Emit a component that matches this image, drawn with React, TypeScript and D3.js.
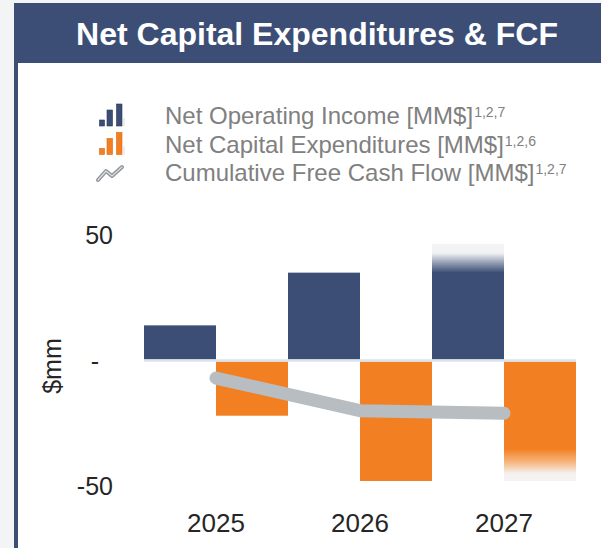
import React from "react";
import * as d3 from "d3";

const years = ["2025", "2026", "2027"];
const netOperatingIncome = [14, 35, 46.5];
const netCapex = [-22, -48, -48];
const cumulativeFCF = [-7, -20, -21];
const fadedYears = ["2027"];
const yTicks = [50, 0, -50];
const yTickLabels = ["50", "-", "-50"];
const legendLabels = [
  "Net Operating Income [MM$]",
  "Net Capital Expenditures [MM$]",
  "Cumulative Free Cash Flow [MM$]",
];
const legendSups = ["1,2,7", "1,2,6", "1,2,7"];
const titleText = "Net Capital Expenditures & FCF";
const yAxisTitle = "$mm";

const W = 601;
const H = 548;
const BLUE = "#3c4e75";
const ORANGE = "#f28022";
const GRAY_LINE = "#b8bdc1";
const FONT = "'Liberation Sans', Arial, sans-serif";

export default function App() {
  const x = d3.scaleBand<string>().domain(years).range([144, 576]).padding(0);
  const y = d3.scaleLinear().domain([-50, 50]).range([486, 235]);
  const bw = x.bandwidth();
  const y0 = y(0);

  const line = d3
    .line<number>()
    .x((_, i) => (x(years[i]) as number) + bw / 2)
    .y((d) => y(d));

  return (
    <svg
      width={W}
      height={H}
      style={{ position: "absolute", left: 0, top: 0, display: "block" }}
      fontFamily={FONT}
    >
      <defs>
        <linearGradient id="fadeBlue" x1="0" y1="0" x2="0" y2="1">
          <stop offset="0" stopColor="#f4f4f4" />
          <stop offset="0.08" stopColor="#f1f2f4" />
          <stop offset="0.16" stopColor="#98a2b6" />
          <stop offset="0.25" stopColor={BLUE} />
          <stop offset="1" stopColor={BLUE} />
        </linearGradient>
        <linearGradient id="fadeOrange" x1="0" y1="0" x2="0" y2="1">
          <stop offset="0" stopColor={ORANGE} />
          <stop offset="0.73" stopColor={ORANGE} />
          <stop offset="0.84" stopColor="#f6b47c" />
          <stop offset="0.94" stopColor="#f4f2f0" />
          <stop offset="1" stopColor="#f3f3f3" />
        </linearGradient>
      </defs>

      <rect x={0} y={0} width={W} height={H} fill="#f3f4f6" />
      <rect x={18} y={63} width={W - 18} height={H - 63} fill="#ffffff" />
      <rect x={14} y={3} width={4} height={H - 3} fill={BLUE} />
      <rect x={14} y={3} width={W - 14} height={60} fill={BLUE} />
      <text
        x={317}
        y={45}
        textAnchor="middle"
        fill="#ffffff"
        fontWeight="bold"
        fontSize={32}
      >
        {titleText}
      </text>

      {legendLabels.map((lab, i) => {
        const by = 124 + i * 28.5;
        const fill = i === 0 ? BLUE : ORANGE;
        const edge = i === 0 ? "#2c3a58" : "#d96a10";
        return (
          <g key={lab}>
            {i < 2 ? (
              <g>
                <rect x={99.5} y={by - 4} width={5} height={6} fill={fill} stroke={edge} strokeWidth={0.6} />
                <rect x={107} y={by - 14} width={5.5} height={16} fill={fill} stroke={edge} strokeWidth={0.6} />
                <rect x={116.5} y={by - 20} width={5.5} height={22} fill={fill} stroke={edge} strokeWidth={0.6} />
                <line x1={124} x2={124} y1={by - 6} y2={by + 2} stroke="#cfd3da" strokeWidth={0.8} />
              </g>
            ) : (
              <g>
                <path
                  d={`M98,${by - 1} L106,${by - 10} L112,${by - 5} L122,${by - 14}`}
                  fill="none"
                  stroke="#8f959b"
                  strokeWidth={4}
                  strokeLinejoin="round"
                  strokeLinecap="round"
                />
                <path
                  d={`M98,${by - 1} L106,${by - 10} L112,${by - 5} L122,${by - 14}`}
                  fill="none"
                  stroke="#d9dcdf"
                  strokeWidth={1.3}
                  strokeLinejoin="round"
                  strokeLinecap="round"
                />
              </g>
            )}
            <text x={165} y={by} fontSize={24} fill="#808080">
              {lab}
              <tspan fontSize={14} dy={-7} dx={1}>
                {legendSups[i]}
              </tspan>
            </text>
          </g>
        );
      })}

      {yTicks.map((t, i) => (
        <text
          key={t}
          x={t === 0 ? 95 : 113}
          y={y(t)}
          dy="0.36em"
          textAnchor={t === 0 ? "middle" : "end"}
          fontSize={25}
          fill="#262626"
        >
          {yTickLabels[i]}
        </text>
      ))}
      <text
        transform={`translate(61,366) rotate(-90)`}
        textAnchor="middle"
        fontSize={25}
        fill="#262626"
      >
        {yAxisTitle}
      </text>

      {years.map((yr, i) => {
        const bx = x(yr) as number;
        const faded = fadedYears.includes(yr);
        const nTop = y(netOperatingIncome[i]);
        const cBot = y(netCapex[i]);
        return (
          <g key={yr}>
            <rect
              x={bx}
              y={nTop}
              width={bw / 2}
              height={y0 - 1 - nTop}
              fill={faded ? "url(#fadeBlue)" : BLUE}
            />
            <rect
              x={bx + bw / 2}
              y={y0 + 1}
              width={bw / 2}
              height={cBot - y0 - 1}
              fill={faded ? "url(#fadeOrange)" : ORANGE}
            />
          </g>
        );
      })}
      <line x1={144} x2={576} y1={y0} y2={y0} stroke="#dde2eb" strokeWidth={2.5} />

      <path
        d={line(cumulativeFCF) || ""}
        fill="none"
        stroke={GRAY_LINE}
        strokeWidth={13}
        strokeLinecap="round"
        strokeLinejoin="round"
      />

      {years.map((yr) => (
        <text
          key={yr}
          x={(x(yr) as number) + bw / 2}
          y={532}
          textAnchor="middle"
          fontSize={26}
          fill="#262626"
        >
          {yr}
        </text>
      ))}
    </svg>
  );
}
